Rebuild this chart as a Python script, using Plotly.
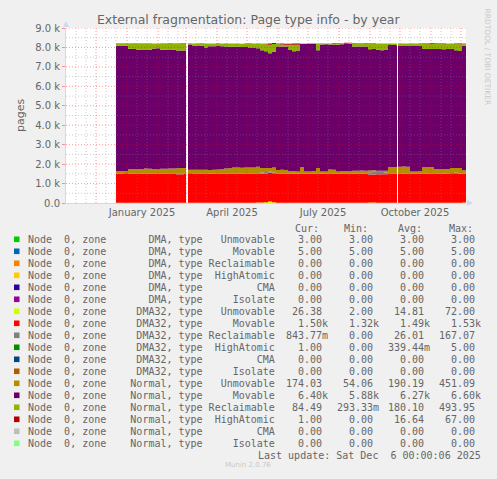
import pandas as pd
import plotly.graph_objects as go

W, H = 497, 479
L, R, T, B = 66, 466, 28, 203   # plot box in pixels

# samples every 4 days, with one missing sample at each outage (Mar 1, Sep 28)
dates = (list(pd.date_range("2024-12-21", periods=18, freq="4D")) + [pd.Timestamp("2025-03-01")]
         + list(pd.date_range("2025-03-03", periods=53, freq="4D")) + [pd.Timestamp("2025-09-28")]
         + list(pd.date_range("2025-09-29", periods=18, freq="4D")))

dma32_unmovable = [
    12, 14, 15, 13, 14, 16, 15, 14, 13, 15, 14, 16, 15, 14, 13, 15, 14, 16,
    None,
    14, 13, 15, 14, 16, 15, 14, 13, 15, 14,
    16, 15, 14, 13, 15, 14, 16, 22, 30, 45,
    72, 40, 15, 14, 13, 15, 14, 12, 14, 13,
    15, 14, 16, 15, 14, 13, 15, 14, 12, 14,
    13, 15, 14, 16, 15, 20, 25, 18, 14, 13,
    15, 14, 13,
    None,
    14, 15, 13, 14, 16, 15, 14, 13, 15, 14, 16, 15, 14, 13, 15, 14, 20, 26.38]

dma32_movable = [
    1510, 1505, 1510, 1500, 1495, 1500, 1505, 1500, 1500, 1505, 1500, 1495, 1500, 1505, 1500, 1470, 1465, 1470,
    None,
    1510, 1505, 1500, 1505, 1500, 1495, 1500, 1505, 1500, 1495,
    1500, 1505, 1500, 1495, 1500, 1505, 1500, 1495, 1480, 1475,
    1480, 1490, 1500, 1505, 1500, 1495, 1495, 1490, 1500, 1505,
    1500, 1505, 1500, 1495, 1500, 1505, 1500, 1495, 1500, 1505,
    1500, 1495, 1500, 1505, 1500, 1450, 1440, 1460, 1460, 1470,
    1500, 1505, 1500,
    None,
    1500, 1505, 1500, 1495, 1500, 1505, 1500, 1495, 1500, 1505, 1500, 1495, 1500, 1480, 1475, 1490, 1500, 1500]

dma32_reclaimable = [
    0, 0, 0, 5, 0, 0, 0, 0, 0, 0, 0, 0, 0, 0, 0, 45, 50, 50,
    None,
    0, 0, 0, 0, 0, 0, 0, 0, 0, 0,
    0, 0, 0, 0, 0, 0, 0, 0, 60, 70,
    60, 40, 0, 0, 0, 0, 20, 25, 0, 0,
    0, 0, 0, 0, 0, 0, 0, 0, 0, 0,
    0, 0, 0, 0, 0, 100, 165, 120, 120, 90,
    0, 0, 0,
    None,
    0, 0, 0, 0, 0, 0, 0, 0, 0, 0, 0, 0, 0, 50, 60, 30, 0, 0.84]

normal_unmovable = [
    125, 125, 125, 220, 225, 225, 230, 255, 250, 235, 240, 245, 250, 255, 260, 260, 265, 265,
    None,
    186, 186, 190, 190, 190, 190, 195, 200, 226, 266,
    266, 306, 306, 306, 310, 310, 310, 346, 230, 210,
    190, 256, 186, 186, 190, 136, 101, 91, 330, 106,
    110, 110, 286, 106, 106, 206, 200, 116, 116, 120,
    120, 146, 146, 150, 150, 96, 56, 66, 66, 86,
    326, 336, 336,
    None,
    356, 356, 350, 106, 106, 110, 326, 326, 320, 226, 226, 230, 230, 256, 251, 266, 166, 174.03]

normal_movable = [
    6440, 6440, 6440, 6200, 6190, 6140, 6140, 6120, 6120, 6190, 6200, 6130, 6120, 6115, 6110, 6050, 6045, 6040,
    None,
    6440, 6390, 6390, 6380, 6290, 6360, 6355, 6350, 6320, 6280,
    6250, 6210, 6210, 6210, 6200, 6170, 6170, 6090, 6050, 6000,
    5900, 5950, 6350, 6350, 6340, 6250, 6170, 6230, 6330, 6550,
    6560, 6560, 6050, 6530, 6540, 6430, 6440, 6520, 6540, 6580,
    6560, 6390, 6390, 6380, 6380, 6240, 6240, 6220, 6190, 6240,
    6280, 6270, 6270,
    None,
    6230, 6230, 6240, 6480, 6480, 6470, 6080, 6080, 6090, 6180, 6180, 6170, 6170, 6120, 6050, 6020, 6400, 6400]

normal_reclaimable = [
    130, 130, 130, 280, 285, 330, 330, 330, 335, 260, 250, 330, 330, 335, 335, 380, 385, 385,
    None,
    60, 110, 115, 120, 210, 140, 140, 140, 140, 140,
    170, 170, 170, 165, 170, 210, 210, 240, 330, 360,
    440, 400, 140, 100, 100, 240, 340, 290, 30, 30,
    25, 30, 350, 50, 45, 50, 50, 50, 30, 10,
    30, 150, 150, 150, 150, 300, 300, 320, 350, 300,
    80, 80, 80,
    None,
    100, 100, 100, 100, 100, 110, 260, 250, 250, 260, 260, 260, 260, 260, 320, 350, 110, 84.49]

normal_highatomic = [
    2, 2, 2, 3, 3, 2, 2, 2, 3, 3, 2, 2, 2, 3, 2, 2, 2, 2,
    None,
    2, 2, 2, 2, 3, 2, 2, 2, 3, 2,
    2, 3, 2, 2, 2, 3, 2, 5, 15, 30,
    60, 50, 10, 50, 50, 60, 60, 60, 5, 5,
    3, 3, 2, 3, 3, 2, 20, 20, 20, 15,
    15, 20, 20, 20, 15, 10, 5, 5, 5, 5,
    3, 3, 2,
    None,
    2, 2, 2, 2, 2, 2, 20, 40, 40, 30, 20, 30, 20, 10, 30, 30, 5, 1]

# legend rows (munin order) and their stats
zones = ["DMA"] * 6 + ["DMA32"] * 6 + ["Normal"] * 6
types = ["Unmovable", "Movable", "Reclaimable", "HighAtomic", "CMA", "Isolate"] * 3
colors = ["#00CC00", "#0066B3", "#FF8000", "#FFCC00", "#330099", "#990099",
          "#CCFF00", "#FF0000", "#808080", "#008F00", "#00487D", "#B35A00",
          "#B38F00", "#6B006B", "#8FB300", "#B30000", "#BEBEBE", "#80FF80"]
cur = ["3.00", "5.00", "0.00", "0.00", "0.00", "0.00", "26.38", "1.50k", "843.77m", "1.00", "0.00", "0.00",
       "174.03", "6.40k", "84.49", "1.00", "0.00", "0.00"]
mins = ["3.00", "5.00", "0.00", "0.00", "0.00", "0.00", "2.00", "1.32k", "0.00", "0.00", "0.00", "0.00",
        "54.06", "5.88k", "293.33m", "0.00", "0.00", "0.00"]
avgs = ["3.00", "5.00", "0.00", "0.00", "0.00", "0.00", "14.81", "1.49k", "26.01", "339.44m", "0.00", "0.00",
        "190.19", "6.27k", "180.10", "16.64", "0.00", "0.00"]
maxs = ["3.00", "5.00", "0.00", "0.00", "0.00", "0.00", "72.00", "1.53k", "167.07", "5.00", "0.00", "0.00",
        "451.09", "6.60k", "493.95", "67.00", "0.00", "0.00"]

# plotted stack (bottom to top)
stack = [
    (dma32_unmovable, "#CCFF00"),
    (dma32_movable, "#FF0000"),
    (dma32_reclaimable, "#808080"),
    (normal_unmovable, "#B38F00"),
    (normal_movable, "#6B006B"),
    (normal_reclaimable, "#8FB300"),
    (normal_highatomic, "#B30000"),
]


def fx(x):
    return (x - L) / (R - L)


def fy(y):
    return (B - y) / (B - T)


fig = go.Figure()
for vals, col in stack:
    fig.add_trace(go.Scatter(x=dates, y=vals, stackgroup="s", mode="lines",
                             line=dict(width=0, shape="hv", color=col),
                             fillcolor=col, hoverinfo="skip", showlegend=False))

FONT = "DejaVu Sans"
MONO = "DejaVu Sans Mono"
TXT = "#666666"
NB = "\u00a0"

shapes = []
MGRID = "rgba(255,0,0,0.4)"
GRID = "rgba(130,130,130,0.4)"
for d in pd.date_range("2024-12-01", "2025-12-01", freq="MS"):
    shapes.append(dict(type="line", xref="x", yref="paper", x0=d, x1=d, y0=0, y1=1, layer="above",
                       line=dict(color=MGRID, width=1, dash="1px,2px")))
for m in pd.date_range("2024-11-01", "2025-11-01", freq="MS"):
    for day in (10, 20):
        d = m + pd.Timedelta(days=day)
        shapes.append(dict(type="line", xref="x", yref="paper", x0=d, x1=d, y0=0, y1=1, layer="above",
                           line=dict(color=GRID, width=1, dash="1px,2px")))
for v in range(500, 9001, 500):
    shapes.append(dict(type="line", xref="paper", yref="y", x0=0, x1=1, y0=v, y1=v, layer="above",
                       line=dict(color=MGRID if v % 1000 == 0 else GRID, width=1, dash="1px,2px")))

# axis arrows
shapes.append(dict(type="path", xref="paper", yref="paper", fillcolor="#CFD6F8", line=dict(width=0),
                   path=f"M {fx(63)},{fy(27)} L {fx(69)},{fy(27)} L {fx(66)},{fy(21)} Z"))
shapes.append(dict(type="path", xref="paper", yref="paper", fillcolor="#CFD6F8", line=dict(width=0),
                   path=f"M {fx(467)},{fy(200)} L {fx(467)},{fy(206)} L {fx(473)},{fy(203)} Z"))

ann = []
# legend
ROW0, STEP = 239.3, 12
for i in range(18):
    yc = ROW0 + STEP * i
    shapes.append(dict(type="rect", xref="paper", yref="paper", x0=fx(14), x1=fx(19.5),
                       y0=fy(yc + 2.8), y1=fy(yc - 2.8), fillcolor=colors[i], line=dict(width=0)))
    label = f"Node  0, zone {zones[i]:>9}, type {types[i]:>11}".replace(" ", NB)
    ann.append(dict(x=fx(26), y=fy(yc), text=label, xanchor="left", yanchor="middle"))
    for col_vals, right in ((cur, 329.5), (mins, 380.5), (avgs, 432), (maxs, 483)):
        v = col_vals[i]
        if not v[-1].isalpha():
            v += NB
        ann.append(dict(x=fx(right), y=fy(yc), text=v, xanchor="right", yanchor="middle"))

for name, left in (("Cur:", 293), ("Min:", 342), ("Avg:", 396), ("Max:", 447)):
    ann.append(dict(x=fx(left), y=fy(228.5), text=name, xanchor="left", yanchor="middle"))

ann.append(dict(x=fx(483), y=fy(455), text=f"Last update: Sat Dec {NB}6 00:00:06 2025",
                xanchor="right", yanchor="middle"))
for a in ann:
    a.update(xref="paper", yref="paper", showarrow=False, font=dict(family=MONO, size=10, color=TXT))

ann.append(dict(xref="paper", yref="paper", x=fx(12), y=fy(115.5), text="pages", textangle=-90,
                showarrow=False, font=dict(family=FONT, size=11, color=TXT)))
ann.append(dict(xref="paper", yref="paper", x=fx(248), y=fy(470.5), text="Munin 2.0.76",
                showarrow=False, font=dict(family=FONT, size=7, color="#C8C8C8")))
ann.append(dict(xref="paper", yref="paper", x=fx(487), y=fy(6), text="RRDTOOL / TOBI OETIKER",
                textangle=90, xanchor="center", yanchor="top", showarrow=False,
                font=dict(family=FONT, size=7.5, color="#C8C8C8")))

month_ticks = list(pd.date_range("2024-11-01", "2025-12-01", freq="MS"))
month_text = [d.strftime("%B %Y") if d.month in (1, 4, 7, 10) else "" for d in month_ticks]

fig.update_layout(
    width=W, height=H, autosize=False,
    margin=dict(l=L, r=W - R, t=T, b=H - B, pad=0),
    paper_bgcolor="#F0F0F0", plot_bgcolor="#FFFFFF",
    font=dict(family=FONT, size=10, color=TXT),
    title=dict(text="External fragmentation: Page type info - by year", x=248.3 / W, y=1 - 19.5 / H,
               xanchor="center", yanchor="middle", font=dict(family=FONT, size=12.5, color=TXT)),
    xaxis=dict(type="date", range=["2024-11-01", "2025-12-06"], tickmode="array",
               tickvals=month_ticks, ticktext=month_text, ticklabelshift=15, showgrid=False,
               zeroline=False, showline=True, linecolor="#CFD6F8", ticks="", fixedrange=True,
               tickfont=dict(family=FONT, size=10, color=TXT)),
    yaxis=dict(range=[0, 9000], tickmode="array", tickvals=list(range(0, 9001, 1000)),
               ticktext=["0.0"] + [f"{k}.0 k" for k in range(1, 10)], showgrid=False,
               zeroline=False, showline=True, linecolor="#CFD6F8", ticks="outside", ticklen=3,
               tickcolor="rgba(255,0,0,0.4)", fixedrange=True,
               tickfont=dict(family=FONT, size=10, color=TXT)),
    shapes=shapes, annotations=ann, showlegend=False,
)

fig.write_html("out.html", config={"displayModeBar": False},
               post_script="document.body.style.margin='0px';")
